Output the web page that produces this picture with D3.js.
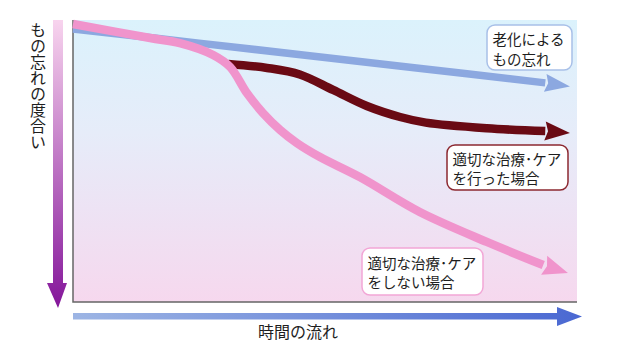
<!DOCTYPE html>
<html>
<head>
<meta charset="utf-8">
<script src="https://cdn.jsdelivr.net/npm/d3@7"></script>
<style>
  body { margin: 0; background: #fff; }
  text { font-family: "Noto Sans CJK JP", "Noto Sans", sans-serif; fill: #1e1e1e; }
</style>
</head>
<body>
<div id="main"></div>
<script>
const ctx = {
    WIDTH: 640,
    HEIGHT: 353
}

// time (0-100) vs degree of forgetfulness (0-100, grows downward)
const agingCurve = [[0, 3.2], [25, 8.2], [69, 17.2], [93.7, 22.3], [98.6, 23.6]];
const noCareCurve = [[0, 1.4], [15.3, 6.4], [21.2, 8.2], [27.8, 12.4], [31.2, 16.7],
    [34.5, 25.9], [37.7, 33.0], [41.1, 39.0], [44.4, 43.6], [49, 48.6], [56.9, 55.7],
    [68.8, 68.1], [82.1, 78.7], [93.3, 86.9], [98.2, 89.7]];
const careCurve = [[30.8, 15.6], [38.5, 17.0], [45, 19.3], [51.6, 24.8], [58.3, 30.5],
    [64.9, 34.4], [70, 36.4], [82.1, 38.4], [93.7, 39.4], [98.6, 40.1]];

const yLabel = "もの忘れの度合い";
const xLabel = "時間の流れ";
const agingLabel = ["老化による", "もの忘れ"];
const careLabel = ["適切な治療･ケア", "を行った場合"];
const noCareLabel = ["適切な治療･ケア", "をしない場合"];

function arrowHead(pts, len, half, notch) {
    // head polygon built from the last two points (pixel space)
    const [x1, y1] = pts[pts.length - 2];
    const [x2, y2] = pts[pts.length - 1];
    const d = Math.hypot(x2 - x1, y2 - y1);
    const ux = (x2 - x1) / d, uy = (y2 - y1) / d;
    const bx = x2 - ux * len, by = y2 - uy * len;
    return [[x2, y2], [bx - uy * half, by + ux * half],
        [bx + ux * notch, by + uy * notch], [bx + uy * half, by - ux * half]];
}

function populateSVGcanvas() {
    const svg = d3.select("#main svg");
    const left = 73, top = 20, right = 577, bottom = 302;

    const x = d3.scaleLinear().domain([0, 100]).range([left, right]);
    const y = d3.scaleLinear().domain([0, 100]).range([top, bottom]);

    const defs = svg.append("defs");
    const bg = defs.append("linearGradient").attr("id", "bg")
        .attr("x1", 0).attr("y1", 0).attr("x2", 0).attr("y2", 1);
    bg.append("stop").attr("offset", "0%").attr("stop-color", "#dbf2fc");
    bg.append("stop").attr("offset", "40%").attr("stop-color", "#e6ecf9");
    bg.append("stop").attr("offset", "100%").attr("stop-color", "#f6d8ee");

    const yg = defs.append("linearGradient").attr("id", "yg")
        .attr("x1", 0).attr("y1", 0).attr("x2", 0).attr("y2", 1);
    yg.append("stop").attr("offset", "0%").attr("stop-color", "#f8d4ee");
    yg.append("stop").attr("offset", "100%").attr("stop-color", "#84169a");

    const xg = defs.append("linearGradient").attr("id", "xg")
        .attr("x1", 0).attr("y1", 0).attr("x2", 1).attr("y2", 0);
    xg.append("stop").attr("offset", "0%").attr("stop-color", "#9db5e4");
    xg.append("stop").attr("offset", "100%").attr("stop-color", "#4a68d2");

    // plot background
    svg.append("rect")
        .attr("x", left).attr("y", top)
        .attr("width", right - left).attr("height", bottom - top)
        .attr("fill", "url(#bg)");

    // frame (left + bottom)
    svg.append("path")
        .attr("d", `M${left},${top}V${bottom}H${right}`)
        .attr("fill", "none").attr("stroke", "#666").attr("stroke-width", 1.5);

    // y axis arrow
    svg.append("path")
        .attr("d", `M53,${top}H63V283H67L58,308L47,283H53Z`)
        .attr("fill", "url(#yg)");

    // x axis arrow
    svg.append("path")
        .attr("d", `M${left},313H557V307L582,316.5L557,326V319.5H${left}Z`)
        .attr("fill", "url(#xg)");

    const line = d3.line().curve(d3.curveCatmullRom.alpha(0.5));

    function drawCurve(data, color, width, len, half) {
        const pts = data.map(d => [x(d[0]), y(d[1])]);
        svg.append("path")
            .attr("d", line(pts.slice(0, -1)))
            .attr("fill", "none").attr("stroke", color).attr("stroke-width", width);
        svg.append("polygon")
            .attr("points", arrowHead(pts, len, half, 3).map(p => p.join(",")).join(" "))
            .attr("fill", color);
    }

    drawCurve(agingCurve, "#8ca8e0", 7.5, 25, 9);
    drawCurve(careCurve, "#6a0a14", 8.5, 25, 9.5);
    drawCurve(noCareCurve, "#f094cc", 8.5, 25, 10);

    function drawBox(lines, bx, by, bw, bh, stroke, baseline, gap) {
        svg.append("rect")
            .attr("x", bx).attr("y", by).attr("width", bw).attr("height", bh)
            .attr("rx", 8).attr("fill", "#fff")
            .attr("stroke", stroke).attr("stroke-width", 1.5);
        svg.append("text")
            .attr("font-size", 14.5)
            .selectAll("tspan").data(lines).enter().append("tspan")
            .attr("x", bx + 5.5).attr("y", (d, i) => baseline + i * gap)
            .text(d => d);
    }

    drawBox(agingLabel, 487, 25, 85, 45, "#a8c0e8", 45, 20);
    drawBox(careLabel, 447, 145, 121, 45, "#8c2830", 165, 19);
    drawBox(noCareLabel, 362, 248, 121, 47, "#f2a6d6", 269, 19);

    // axis titles
    svg.append("text")
        .attr("x", 38).attr("y", 22)
        .attr("font-size", 16)
        .style("writing-mode", "vertical-rl")
        .style("text-orientation", "upright")
        .text(yLabel);

    svg.append("text")
        .attr("x", 298).attr("y", 338)
        .attr("text-anchor", "middle")
        .attr("font-size", 16)
        .text(xLabel);
}

function createViz() {
    let svgEl = d3.select("#main").append("svg");
    svgEl.attr("width", ctx.WIDTH);
    svgEl.attr("height", ctx.HEIGHT);
    populateSVGcanvas();
}

createViz();
</script>
</body>
</html>
